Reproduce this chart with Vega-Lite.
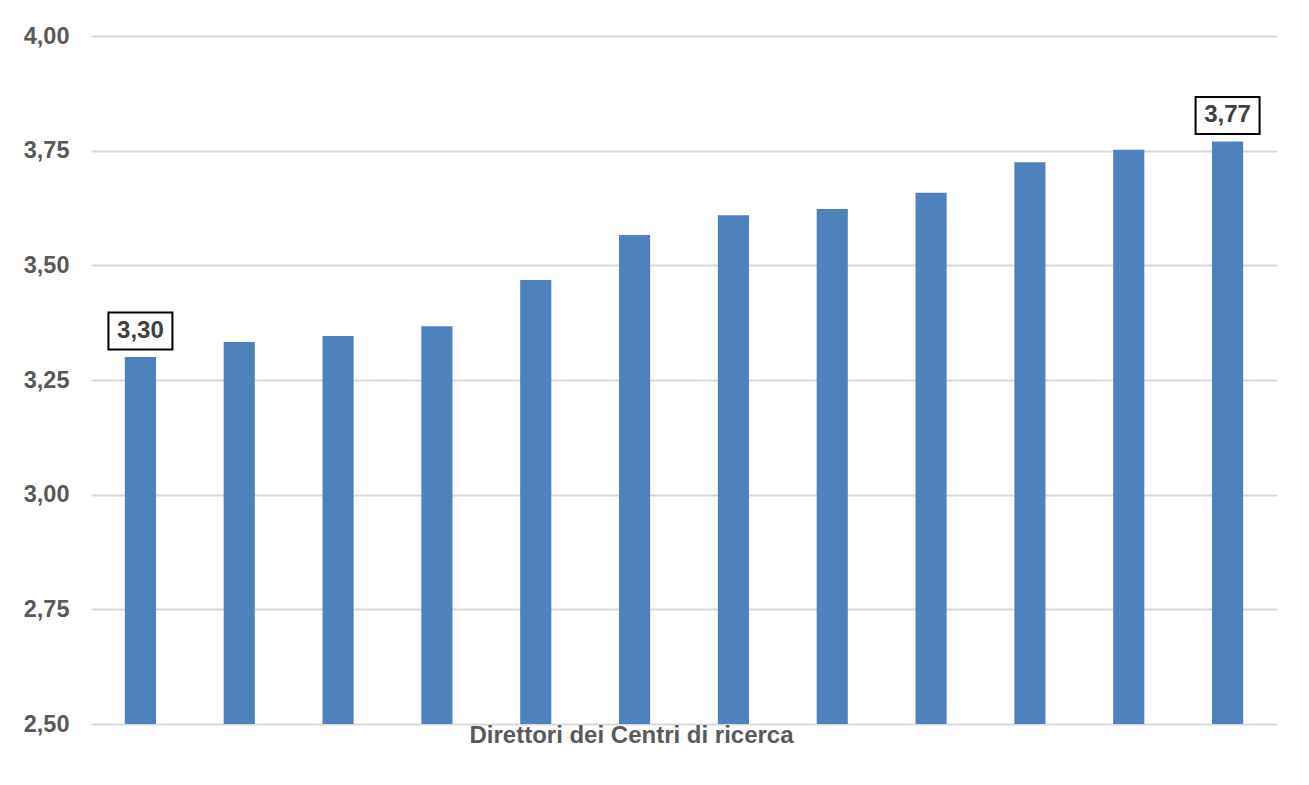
{
  "$schema": "https://vega.github.io/schema/vega-lite/v6.json",
  "autosize": "none",
  "width": 1186,
  "height": 688,
  "padding": {"left": 91, "top": 36, "right": 32, "bottom": 61},
  "background": "white",
  "config": {
    "locale": {"number": {"decimal": ",", "thousands": ".", "grouping": [3], "currency": ["€", ""]}},
    "view": {"stroke": null},
    "font": "Liberation Sans"
  },
  "data": {
    "values": [
      {"id": "1", "value": 3.30},
      {"id": "2", "value": 3.333},
      {"id": "3", "value": 3.346},
      {"id": "4", "value": 3.367},
      {"id": "5", "value": 3.468},
      {"id": "6", "value": 3.566},
      {"id": "7", "value": 3.609},
      {"id": "8", "value": 3.623},
      {"id": "9", "value": 3.658},
      {"id": "10", "value": 3.725},
      {"id": "11", "value": 3.752},
      {"id": "12", "value": 3.77}
    ]
  },
  "encoding": {
    "x": {
      "field": "id", "type": "nominal", "sort": null,
      "scale": {"paddingInner": 0, "paddingOuter": 0},
      "axis": {
        "title": "Direttori dei Centri di ricerca",
        "labels": false, "ticks": false, "domain": false, "grid": false,
        "titleFont": "Liberation Sans", "titleFontSize": 24, "titleFontWeight": "bold",
        "titleColor": "#595959", "titleX": 540, "titleY": 18, "titleAlign": "center",
        "titleBaseline": "alphabetic"
      }
    },
    "y": {
      "field": "value", "type": "quantitative",
      "scale": {"domain": [2.5, 4], "zero": false, "nice": false},
      "axis": {
        "title": null, "values": [2.5, 2.75, 3, 3.25, 3.5, 3.75, 4], "format": ".2f",
        "domain": false, "ticks": false, "labelPadding": 22,
        "labelFont": "Liberation Sans", "labelFontSize": 23.5, "labelFontWeight": "bold",
        "labelColor": "#595959", "gridColor": "#d9d9d9", "gridWidth": 2
      }
    }
  },
  "layer": [
    {
      "mark": {"type": "bar", "color": "#4f81bd", "width": {"band": 0.315}, "clip": true}
    },
    {
      "transform": [{"filter": "datum.id == '1' || datum.id == '12'"}],
      "mark": {
        "type": "point", "filled": false, "shape": "M-1,-0.578L1,-0.578L1,0.578L-1,0.578Z",
        "size": 4096, "fill": "white", "fillOpacity": 1, "stroke": "black", "strokeWidth": 2,
        "opacity": 1, "yOffset": -26
      }
    },
    {
      "transform": [{"filter": "datum.id == '1' || datum.id == '12'"}],
      "mark": {
        "type": "text", "font": "Liberation Sans", "fontSize": 24, "fontWeight": "bold",
        "color": "#404040", "baseline": "middle", "align": "center", "yOffset": -26
      },
      "encoding": {"text": {"field": "value", "type": "quantitative", "format": ".2f"}}
    }
  ]
}
